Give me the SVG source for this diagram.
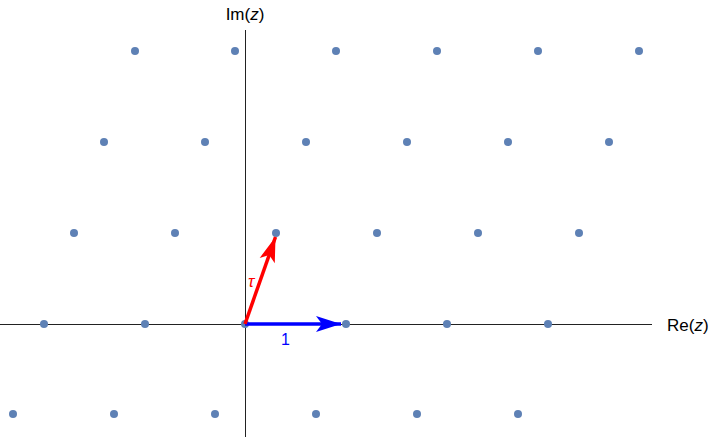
<svg xmlns="http://www.w3.org/2000/svg" width="714" height="437" viewBox="0 0 714 437">
<style>
.ax{stroke:#222;stroke-width:1;fill:none}
.pt{fill:#5E81B5}
.lbl{font-family:"Liberation Sans",Arial,sans-serif;font-size:17px;fill:#000}
</style>
<defs>
<marker id="arR" markerUnits="userSpaceOnUse" markerWidth="30" markerHeight="20" viewBox="-28 -10 30 20" refX="0" refY="0" orient="auto">
<path d="M0,0 L-25,-8 L-19,0 L-25,8 Z" fill="#FF0000"/>
</marker>
<marker id="arB" markerUnits="userSpaceOnUse" markerWidth="30" markerHeight="20" viewBox="-28 -10 30 20" refX="0" refY="0" orient="auto">
<path d="M0,0 L-25,-8 L-19,0 L-25,8 Z" fill="#0000FF"/>
</marker>
</defs>
<g id="axes">
<line class="ax" x1="0" y1="324.5" x2="652" y2="324.5"/>
<line class="ax" x1="245.5" y1="30" x2="245.5" y2="437"/>
<text class="lbl" x="245" y="20" text-anchor="middle">Im(<tspan font-style="italic">z</tspan>)</text>
<text class="lbl" x="667" y="331">Re(<tspan font-style="italic">z</tspan>)</text>
</g>
<g id="lattice">
<circle class="pt" cx="135" cy="51" r="4"/><circle class="pt" cx="235" cy="51" r="4"/><circle class="pt" cx="336" cy="51" r="4"/><circle class="pt" cx="437" cy="51" r="4"/><circle class="pt" cx="538" cy="51" r="4"/><circle class="pt" cx="639" cy="51" r="4"/>
<circle class="pt" cx="104" cy="142" r="4"/><circle class="pt" cx="205" cy="142" r="4"/><circle class="pt" cx="306" cy="142" r="4"/><circle class="pt" cx="407" cy="142" r="4"/><circle class="pt" cx="508" cy="142" r="4"/><circle class="pt" cx="609" cy="142" r="4"/>
<circle class="pt" cx="74" cy="233" r="4"/><circle class="pt" cx="175" cy="233" r="4"/><circle class="pt" cx="276" cy="233" r="4"/><circle class="pt" cx="377" cy="233" r="4"/><circle class="pt" cx="478" cy="233" r="4"/><circle class="pt" cx="579" cy="233" r="4"/>
<circle class="pt" cx="44" cy="324" r="4"/><circle class="pt" cx="145" cy="324" r="4"/><circle class="pt" cx="245" cy="324" r="4"/><circle class="pt" cx="346" cy="324" r="4"/><circle class="pt" cx="447" cy="324" r="4"/><circle class="pt" cx="548" cy="324" r="4"/>
<circle class="pt" cx="13" cy="414" r="4"/><circle class="pt" cx="114" cy="414" r="4"/><circle class="pt" cx="215" cy="414" r="4"/><circle class="pt" cx="316" cy="414" r="4"/><circle class="pt" cx="417" cy="414" r="4"/><circle class="pt" cx="518" cy="414" r="4"/>
</g>
<g id="connectors">
<line x1="245" y1="324" x2="341" y2="324" stroke="#0000FF" stroke-width="3.5" marker-end="url(#arB)"/>
<line x1="245" y1="324" x2="275.5" y2="237" stroke="#FF0000" stroke-width="3.5" marker-end="url(#arR)"/>
</g>
<text x="248" y="287" font-family="Liberation Sans,Arial,sans-serif" font-size="17" font-style="italic" fill="#FF0000">τ</text>
<text x="281" y="345" font-family="Liberation Sans,Arial,sans-serif" font-size="16" fill="#0000FF">1</text>
</svg>
